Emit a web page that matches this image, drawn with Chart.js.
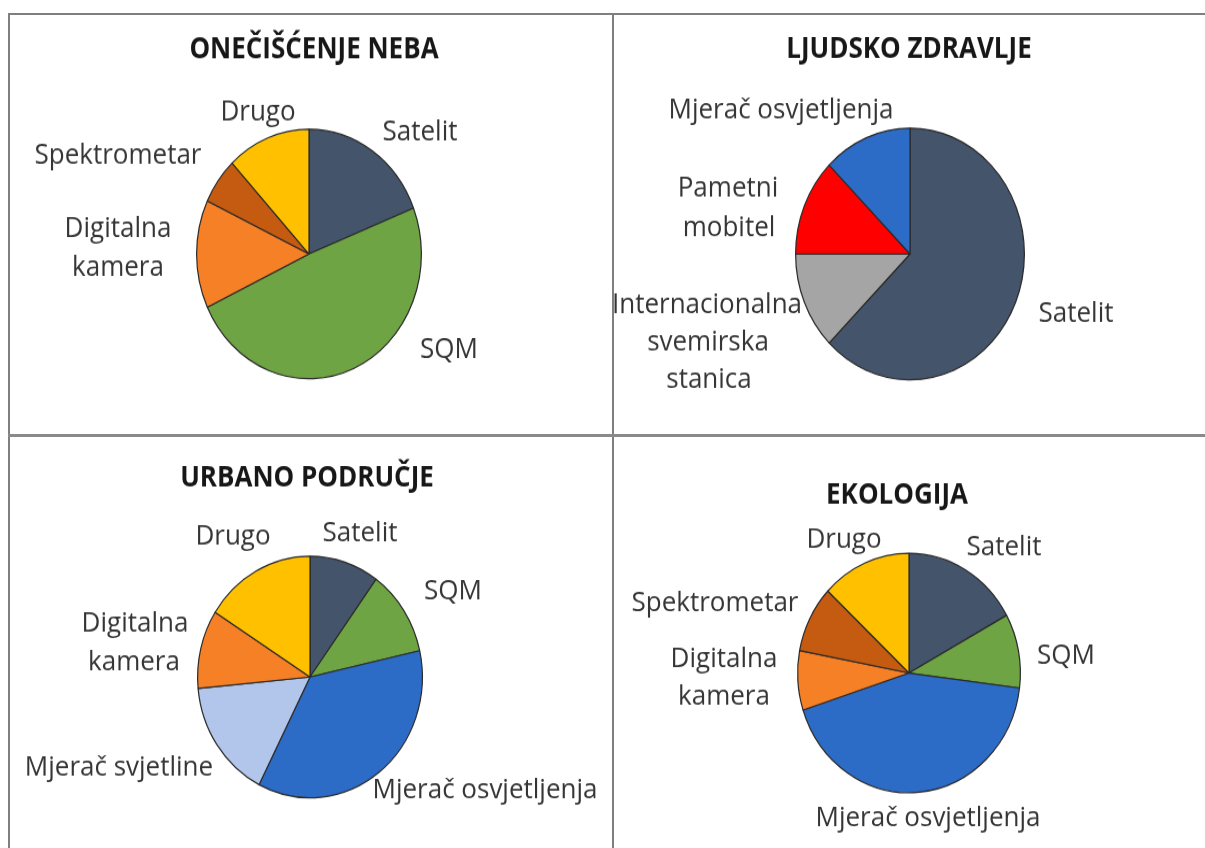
<!DOCTYPE html>
<html>
<head>
<meta charset="utf-8">
<script src="https://cdn.jsdelivr.net/npm/chart.js@4.4.1/dist/chart.umd.min.js"></script>
<style>
  html,body{margin:0;padding:0;background:#fff;}
  #wrap{position:relative;width:1205px;height:848px;overflow:hidden;background:#fff;}
  .panel{position:absolute;overflow:visible;}
  .panel canvas{position:absolute;left:0;top:0;transform-origin:0 0;}
  .line{position:absolute;background:#7f7f7f;}
</style>
</head>
<body>
<div id="wrap">
  <div class="line" style="left:8px;top:13px;width:1197px;height:2px;"></div>
  <div class="line" style="left:8px;top:13px;width:2px;height:835px;"></div>
  <div class="line" style="left:612px;top:13px;width:2px;height:835px;"></div>
  <div class="line" style="left:8px;top:434px;width:1197px;height:3px;background:#8a8a8a;"></div>
  <div class="panel" id="p1" style="left:10px;top:15px;width:602px;height:419px;"><canvas id="c1"></canvas></div>
  <div class="panel" id="p2" style="left:614px;top:15px;width:591px;height:419px;"><canvas id="c2"></canvas></div>
  <div class="panel" id="p3" style="left:10px;top:437px;width:602px;height:411px;"><canvas id="c3"></canvas></div>
  <div class="panel" id="p4" style="left:614px;top:437px;width:591px;height:411px;"><canvas id="c4"></canvas></div>
</div>
<script>
/* ---------------- data (clockwise from 12 o'clock) ---------------- */
const skyLabels   = ["Satelit","SQM","Digitalna kamera","Spektrometar","Drugo"];
const skyValues   = [19,49,14,6,12];

const healthLabels = ["Satelit","Internacionalna svemirska stanica","Pametni mobitel","Mjerač osvjetljenja"];
const healthValues = [62.5,12.5,12.5,12.5];

const urbanLabels = ["Satelit","SQM","Mjerač osvjetljenja","Mjerač svjetline","Digitalna kamera","Drugo"];
const urbanValues = [10,11.5,36,16,10.5,16];

const ecoLabels   = ["Satelit","SQM","Mjerač osvjetljenja","Digitalna kamera","Spektrometar","Drugo"];
const ecoValues   = [17,10,43,8,9,13];

/* ---------------- colours ---------------- */
const COL={
  "Satelit":"#44546a","SQM":"#6ea443","Digitalna kamera":"#f58026","Spektrometar":"#c55a11",
  "Drugo":"#ffc000","Mjerač osvjetljenja":"#2c6bc6","Mjerač svjetline":"#b1c6ea",
  "Pametni mobitel":"#ff0000","Internacionalna svemirska stanica":"#a5a5a5"
};

/* ---------------- layout (page px) ---------------- */
// text lines: [text, x, y] centre of line
const skyText=[["Drugo",258,112],["Satelit",420,132],["Spektrometar",118,155],["Digitalna",118,229],["kamera",118,268],["SQM",449,350]];
const healthText=[["Mjerač osvjetljenja",781,110],["Pametni",728,188],["mobitel",729,228],["Internacionalna",707,305],["svemirska",708,342],["stanica",709,380],["Satelit",1076,314]];
const urbanText=[["Drugo",233,537],["Satelit",360,533],["SQM",453,591],["Digitalna",135,624],["kamera",134,662],["Mjerač svjetline",119,768],["Mjerač osvjetljenja",485,790]];
const ecoText=[["Drugo",844,540],["Satelit",1004,547],["Spektrometar",715,603],["SQM",1066,656],["Digitalna",724,659],["kamera",724,697],["Mjerač osvjetljenja",928,818]];

const panels=[
  {canvas:"c1",left:10,top:15,w:602,h:419,s:1.11,title:"ONEČIŠĆENJE NEBA",tx:314,ty:50,cx:309,cy:254,r:113,labels:skyLabels,values:skyValues,text:skyText},
  {canvas:"c2",left:614,top:15,w:591,h:419,s:1.1,title:"LJUDSKO ZDRAVLJE",tx:909,ty:50,cx:910,cy:254,r:115,labels:healthLabels,values:healthValues,text:healthText},
  {canvas:"c3",left:10,top:437,w:602,h:411,s:1.075,title:"URBANO PODRUČJE",tx:307,ty:478,cx:310,cy:677,r:113,labels:urbanLabels,values:urbanValues,text:urbanText},
  {canvas:"c4",left:614,top:437,w:591,h:411,s:1.075,title:"EKOLOGIJA",tx:897,ty:496,cx:909,cy:673,r:112,labels:ecoLabels,values:ecoValues,text:ecoText}
];

const textPlugin={
  id:"pieText",
  afterDraw(chart,args,opts){
    const p=opts.panel, ctx=chart.ctx;
    ctx.save();
    ctx.textAlign="center"; ctx.textBaseline="middle";
    ctx.fillStyle="#171717";
    ctx.font="bold 26px 'Open Sans'";
    ctx.fillText(p.title,p.tx-p.left,(p.ty-p.top)/p.s);
    ctx.fillStyle="#353535";
    ctx.font="26px 'Open Sans'";
    p.text.forEach(([t,x,y])=>ctx.fillText(t,x-p.left,(y-p.top)/p.s));
    ctx.restore();
  }
};

panels.forEach(p=>{
  const cv=document.getElementById(p.canvas);
  const H=Math.round(p.h/p.s);
  cv.width=p.w; cv.height=H;
  cv.style.width=p.w+"px"; cv.style.height=H+"px";
  cv.style.transform=`scaleY(${p.s})`;
  const lx=p.cx-p.left, ly=(p.cy-p.top)/p.s;
  new Chart(cv,{
    type:"pie",
    data:{labels:p.labels,datasets:[{
      data:p.values,
      backgroundColor:p.labels.map(l=>COL[l]),
      borderColor:"#2a2a2a",borderWidth:1.2
    }]},
    options:{
      responsive:false,animation:false,
      layout:{padding:{left:lx-p.r,right:p.w-(lx+p.r),top:ly-p.r,bottom:H-(ly+p.r)}},
      plugins:{legend:{display:false},tooltip:{enabled:false},pieText:{panel:p}}
    },
    plugins:[textPlugin]
  });
});
</script>
</body>
</html>
